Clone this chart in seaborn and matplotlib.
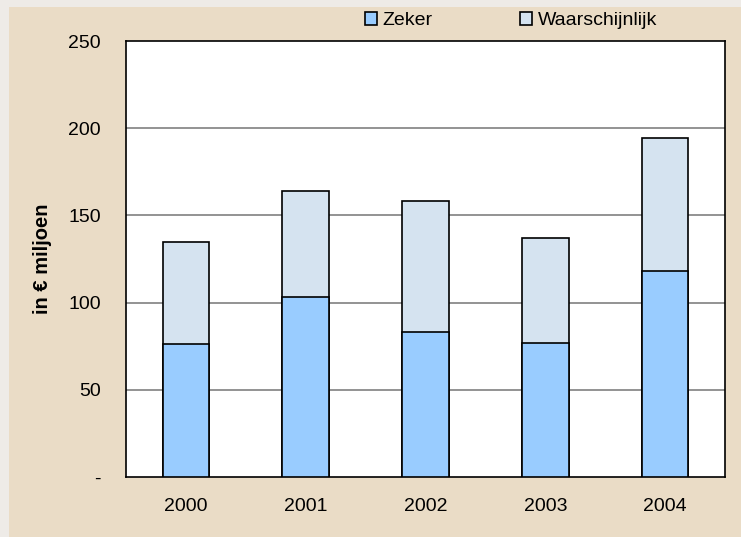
import pandas as pd
import seaborn as sns
import matplotlib.pyplot as plt
from matplotlib.patches import Rectangle

# values (in € miljoen)
jaren = ["2000", "2001", "2002", "2003", "2004"]
zeker = [76.5, 103, 83, 77, 118]
waarschijnlijk = [58.5, 61, 75, 60, 76.5]
y_ticks = [0, 50, 100, 150, 200, 250]
y_labels = ["-", "50", "100", "150", "200", "250"]

df = pd.DataFrame({"jaar": jaren, "zeker": zeker, "waarschijnlijk": waarschijnlijk})
df["totaal"] = df["zeker"] + df["waarschijnlijk"]

sns.set_style("white")
plt.rcParams["font.family"] = ["Liberation Sans", "DejaVu Sans"]
plt.rcParams["text.color"] = "black"
plt.rcParams["xtick.color"] = "black"
plt.rcParams["ytick.color"] = "black"
plt.rcParams["axes.labelcolor"] = "black"

tan = "#EADCC6"
fig = plt.figure(figsize=(7.41, 5.37), dpi=100, facecolor=tan)
# light grey strips along the top and left edge
fig.patches.append(Rectangle((0, 0), 9 / 741, 1, transform=fig.transFigure,
                             facecolor="#EEEBE7", edgecolor="none", zorder=0))
fig.patches.append(Rectangle((0, 1 - 7 / 537), 1, 7 / 537, transform=fig.transFigure,
                             facecolor="#EEEBE7", edgecolor="none", zorder=0))

ax = fig.add_axes([126 / 741, 1 - 477 / 537, 599 / 741, 436 / 537])
ax.set_facecolor("white")

sns.barplot(data=df, x="jaar", y="totaal", color="#D5E3F0", edgecolor="black",
            linewidth=1.2, width=0.39, saturation=1, ax=ax, label="Waarschijnlijk", zorder=3)
sns.barplot(data=df, x="jaar", y="zeker", color="#99CCFF", edgecolor="black",
            linewidth=1.2, width=0.39, saturation=1, ax=ax, label="Zeker", zorder=3)

ax.set_ylim(0, 250)
ax.set_xlim(-0.5, 4.5)
ax.set_yticks(y_ticks)
ax.set_yticklabels(y_labels)
ax.set_xticks(range(len(jaren)))
ax.set_xticklabels(jaren)
ax.set_xticks([i - 0.5 for i in range(len(jaren) + 1)], minor=True)
ax.tick_params(axis="x", which="major", length=0, pad=15, labelsize=14)
ax.tick_params(axis="x", which="minor", length=5, width=1, direction="out", color="black")
ax.tick_params(axis="y", length=6, width=1, direction="out", color="black", pad=12, labelsize=14)

for y in y_ticks[1:-1]:
    ax.axhline(y, color="#808080", linewidth=1.2, zorder=1)

for s in ax.spines.values():
    s.set_visible(True)
    s.set_color("black")
    s.set_linewidth(1.2)

ax.set_xlabel("")
ax.set_ylabel("in € miljoen", fontsize=14.5, fontweight="bold", labelpad=12)

handles, labels = ax.get_legend_handles_labels()
order = [labels.index("Zeker"), labels.index("Waarschijnlijk")]
leg = fig.legend([handles[i] for i in order], [labels[i] for i in order],
                 loc="center", bbox_to_anchor=(0.6896, 0.961), ncol=2, frameon=False,
                 fontsize=14, handlelength=0.6, handleheight=0.6, handletextpad=0.3,
                 columnspacing=4.5)
if ax.get_legend() is not None:
    ax.get_legend().remove()

fig.savefig("out.png", dpi=100, facecolor=tan)
